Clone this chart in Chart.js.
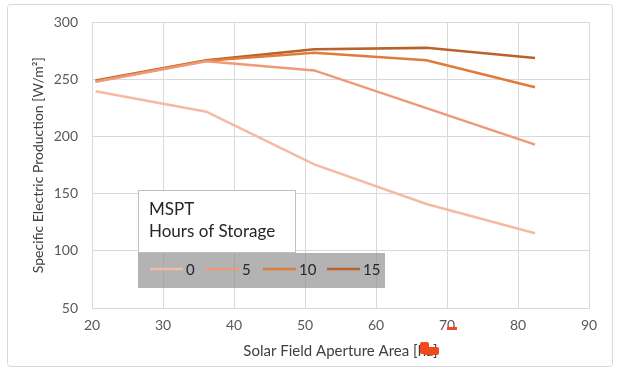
<!DOCTYPE html>
<html>
<head>
<meta charset="utf-8">
<script src="https://cdn.jsdelivr.net/npm/chart.js@4.4.0/dist/chart.umd.min.js"></script>
<style>
  html, body { margin: 0; padding: 0; background: #fff; }
  #wrap { position: absolute; left: 0; top: 0; width: 619px; height: 372px; }
</style>
</head>
<body>
<div id="wrap"><canvas id="grafic"></canvas></div>
<script>
// dades llegides del gràfic
const apertureArea = [20.5, 36.1, 51.3, 67.1, 82.4];
const storageHours = ['0', '5', '10', '15'];
const prod0  = [239.8, 221.8, 175.7, 141, 115.5];
const prod5  = [248, 266, 258, 225, 193];
const prod10 = [248.5, 266.5, 273.5, 266.8, 243.3];
const prod15 = [249.1, 266.8, 276.5, 277.7, 268.8];
const xTicks = [20, 30, 40, 50, 60, 70, 80, 90];
const yTicks = [50, 100, 150, 200, 250, 300];

const colors = ['#f5b9a4', '#ef9a74', '#e07b3b', '#b9622c'];
const allSeries = [prod0, prod5, prod10, prod15];

const fontFam = 'Lato, "Open Sans", sans-serif';
const txtColor = '#595959';

const datasets = allSeries.map((vals, i) => ({
    label: storageHours[i],
    data: vals.map((v, k) => ({ x: apertureArea[k], y: v })),
    borderColor: colors[i],
    backgroundColor: colors[i],
    borderWidth: 2.5,
    pointRadius: 0,
    tension: 0,
    fill: false
}));

// caixa de llegenda + marc exterior
const boxLegend = {
    id: 'boxLegend',
    beforeDraw(chart) {
        const c = chart.ctx;
        c.save();
        c.strokeStyle = '#d9d9d9';
        c.lineWidth = 1;
        c.beginPath();
        c.roundRect(7.5, 4.5, 605, 362, 3);
        c.stroke();
        c.restore();
    },
    afterDatasetsDraw(chart) {
        const c = chart.ctx;
        c.save();
        // caixa blanca amb el títol
        c.fillStyle = '#ffffff';
        c.fillRect(138, 190, 157, 62);
        c.strokeStyle = '#bfbfbf';
        c.lineWidth = 1;
        c.strokeRect(138.5, 190.5, 157, 62);
        c.fillStyle = '#262626';
        c.font = '17px ' + fontFam;
        c.textBaseline = 'middle';
        c.fillText('MSPT', 149, 210);
        c.fillText('Hours of Storage', 149, 232);
        // franja grisa
        c.fillStyle = 'rgba(140,140,140,0.66)';
        c.fillRect(138, 253, 247, 35);
        const xs = [150, 206, 263, 327];
        chart.data.datasets.forEach((ds, i) => {
            c.strokeStyle = ds.borderColor;
            c.lineWidth = 2.5;
            c.beginPath();
            c.moveTo(xs[i], 269);
            c.lineTo(xs[i] + 33, 269);
            c.stroke();
            c.fillStyle = '#262626';
            c.font = '15px ' + fontFam;
            c.fillText(ds.label, xs[i] + 36, 270);
        });
        c.restore();
    },
    afterDraw(chart) {
        // taca vermella que tapa part del títol
        const c = chart.ctx;
        c.save();
        c.fillStyle = '#f04a1c';
        c.beginPath();
        c.roundRect(420, 342, 9, 12, 2);
        c.fill();
        c.beginPath();
        c.roundRect(424, 347, 15, 8, 2);
        c.fill();
        c.fillRect(447, 327, 10, 3);
        c.restore();
    }
};

const ctx = document.getElementById('grafic').getContext('2d');
const grafic = new Chart(ctx, {
    type: 'line',
    data: { datasets: datasets },
    plugins: [boxLegend],
    options: {
        responsive: true,
        maintainAspectRatio: false,
        animation: false,
        layout: { padding: { left: 30, right: 30, top: 18, bottom: 12 } },
        plugins: {
            legend: { display: false },
            tooltip: { enabled: false }
        },
        scales: {
            x: {
                type: 'linear',
                min: 20,
                max: 90,
                afterBuildTicks: axis => { axis.ticks = xTicks.map(v => ({ value: v })); },
                afterFit: axis => { axis.height = 52; },
                grid: { color: '#d9d9d9', drawTicks: false },
                border: { color: '#d9d9d9' },
                ticks: { color: txtColor, font: { family: fontFam, size: 14 }, padding: 9, maxRotation: 0 },
                title: {
                    display: true,
                    text: 'Solar Field Aperture Area [ha]',
                    color: '#404040',
                    font: { family: fontFam, size: 15 },
                    padding: { top: 0, bottom: 0 }
                }
            },
            y: {
                min: 50,
                max: 300,
                afterBuildTicks: axis => { axis.ticks = yTicks.map(v => ({ value: v })); },
                afterFit: axis => { axis.width = 62; },
                grid: { color: '#d9d9d9', drawTicks: false },
                border: { color: '#d9d9d9' },
                ticks: { color: txtColor, font: { family: fontFam, size: 14 }, padding: 14 },
                title: {
                    display: true,
                    text: 'Specific Electric Production [W/m²]',
                    color: '#404040',
                    font: { family: fontFam, size: 14 },
                    padding: { top: 0, bottom: 0 }
                }
            }
        }
    }
});
</script>
</body>
</html>
